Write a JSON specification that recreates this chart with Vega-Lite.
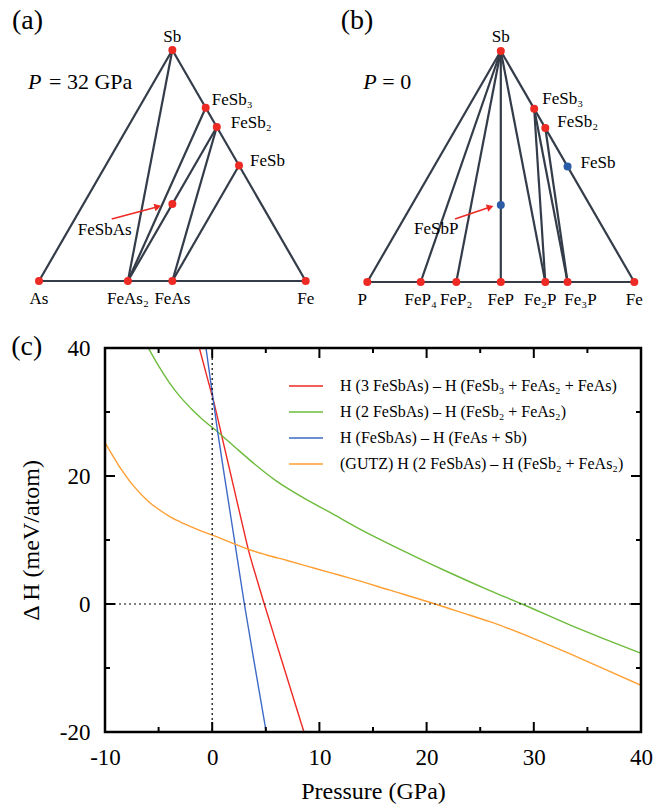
{
 "$schema": "https://vega.github.io/schema/vega-lite/v6.json",
 "autosize": "none",
 "padding": {"left": 105, "top": 348, "right": 21, "bottom": 73},
 "width": 536,
 "height": 384,
 "background": "white",
 "config": {
  "view": {"stroke": null},
  "font": "Liberation Serif",
  "text": {"font": "Liberation Serif", "color": "black"},
  "axis": {"grid": false, "domain": false, "ticks": false,
           "labelFont": "Liberation Serif", "labelFontSize": 23, "labelColor": "black",
           "titleFont": "Liberation Serif", "titleFontSize": 24, "titleFontWeight": "normal", "titleColor": "black"}
 },
 "datasets": {
  "curves": [
   {"series": "H (3 FeSbAs) – H (FeSb₃ + FeAs₂ + FeAs)", "P": -1.2, "dH": 40},
   {"series": "H (3 FeSbAs) – H (FeSb₃ + FeAs₂ + FeAs)", "P": -0.5, "dH": 35.6},
   {"series": "H (3 FeSbAs) – H (FeSb₃ + FeAs₂ + FeAs)", "P": 0.1, "dH": 31.9},
   {"series": "H (3 FeSbAs) – H (FeSb₃ + FeAs₂ + FeAs)", "P": 1, "dH": 25.5},
   {"series": "H (3 FeSbAs) – H (FeSb₃ + FeAs₂ + FeAs)", "P": 2, "dH": 18.3},
   {"series": "H (3 FeSbAs) – H (FeSb₃ + FeAs₂ + FeAs)", "P": 3, "dH": 11.1},
   {"series": "H (3 FeSbAs) – H (FeSb₃ + FeAs₂ + FeAs)", "P": 3.37, "dH": 8.5},
   {"series": "H (3 FeSbAs) – H (FeSb₃ + FeAs₂ + FeAs)", "P": 4, "dH": 4.8},
   {"series": "H (3 FeSbAs) – H (FeSb₃ + FeAs₂ + FeAs)", "P": 4.86, "dH": 0},
   {"series": "H (3 FeSbAs) – H (FeSb₃ + FeAs₂ + FeAs)", "P": 6, "dH": -6.2},
   {"series": "H (3 FeSbAs) – H (FeSb₃ + FeAs₂ + FeAs)", "P": 7, "dH": -11.6},
   {"series": "H (3 FeSbAs) – H (FeSb₃ + FeAs₂ + FeAs)", "P": 8, "dH": -17},
   {"series": "H (3 FeSbAs) – H (FeSb₃ + FeAs₂ + FeAs)", "P": 8.56, "dH": -20},
   {"series": "H (2 FeSbAs) – H (FeSb₂ + FeAs₂)", "P": -5.95, "dH": 40},
   {"series": "H (2 FeSbAs) – H (FeSb₂ + FeAs₂)", "P": -5, "dH": 37.2},
   {"series": "H (2 FeSbAs) – H (FeSb₂ + FeAs₂)", "P": -4, "dH": 34.6},
   {"series": "H (2 FeSbAs) – H (FeSb₂ + FeAs₂)", "P": -3, "dH": 32.4},
   {"series": "H (2 FeSbAs) – H (FeSb₂ + FeAs₂)", "P": -2, "dH": 30.6},
   {"series": "H (2 FeSbAs) – H (FeSb₂ + FeAs₂)", "P": -1, "dH": 29.0},
   {"series": "H (2 FeSbAs) – H (FeSb₂ + FeAs₂)", "P": 0.57, "dH": 26.8},
   {"series": "H (2 FeSbAs) – H (FeSb₂ + FeAs₂)", "P": 2, "dH": 24.7},
   {"series": "H (2 FeSbAs) – H (FeSb₂ + FeAs₂)", "P": 4, "dH": 21.8},
   {"series": "H (2 FeSbAs) – H (FeSb₂ + FeAs₂)", "P": 6, "dH": 19.2},
   {"series": "H (2 FeSbAs) – H (FeSb₂ + FeAs₂)", "P": 8.2, "dH": 16.9},
   {"series": "H (2 FeSbAs) – H (FeSb₂ + FeAs₂)", "P": 11, "dH": 14.3},
   {"series": "H (2 FeSbAs) – H (FeSb₂ + FeAs₂)", "P": 14, "dH": 11.5},
   {"series": "H (2 FeSbAs) – H (FeSb₂ + FeAs₂)", "P": 18.45, "dH": 7.8},
   {"series": "H (2 FeSbAs) – H (FeSb₂ + FeAs₂)", "P": 22, "dH": 5},
   {"series": "H (2 FeSbAs) – H (FeSb₂ + FeAs₂)", "P": 25.9, "dH": 2.1},
   {"series": "H (2 FeSbAs) – H (FeSb₂ + FeAs₂)", "P": 28.9, "dH": 0},
   {"series": "H (2 FeSbAs) – H (FeSb₂ + FeAs₂)", "P": 33.4, "dH": -3.3},
   {"series": "H (2 FeSbAs) – H (FeSb₂ + FeAs₂)", "P": 36.5, "dH": -5.4},
   {"series": "H (2 FeSbAs) – H (FeSb₂ + FeAs₂)", "P": 40, "dH": -7.7},
   {"series": "H (FeSbAs) – H (FeAs + Sb)", "P": -0.58, "dH": 40},
   {"series": "H (FeSbAs) – H (FeAs + Sb)", "P": 0.51, "dH": 26.9},
   {"series": "H (FeSbAs) – H (FeAs + Sb)", "P": 1.3, "dH": 18.3},
   {"series": "H (FeSbAs) – H (FeAs + Sb)", "P": 2.13, "dH": 9.4},
   {"series": "H (FeSbAs) – H (FeAs + Sb)", "P": 3.0, "dH": 0},
   {"series": "H (FeSbAs) – H (FeAs + Sb)", "P": 4, "dH": -9.9},
   {"series": "H (FeSbAs) – H (FeAs + Sb)", "P": 5.04, "dH": -20},
   {"series": "(GUTZ) H (2 FeSbAs) – H (FeSb₂ + FeAs₂)", "P": -10, "dH": 25.2},
   {"series": "(GUTZ) H (2 FeSbAs) – H (FeSb₂ + FeAs₂)", "P": -8.7, "dH": 21.6},
   {"series": "(GUTZ) H (2 FeSbAs) – H (FeSb₂ + FeAs₂)", "P": -7.36, "dH": 18.5},
   {"series": "(GUTZ) H (2 FeSbAs) – H (FeSb₂ + FeAs₂)", "P": -6, "dH": 16.1},
   {"series": "(GUTZ) H (2 FeSbAs) – H (FeSb₂ + FeAs₂)", "P": -5, "dH": 14.8},
   {"series": "(GUTZ) H (2 FeSbAs) – H (FeSb₂ + FeAs₂)", "P": -4, "dH": 13.7},
   {"series": "(GUTZ) H (2 FeSbAs) – H (FeSb₂ + FeAs₂)", "P": -3, "dH": 12.85},
   {"series": "(GUTZ) H (2 FeSbAs) – H (FeSb₂ + FeAs₂)", "P": -2, "dH": 12.1},
   {"series": "(GUTZ) H (2 FeSbAs) – H (FeSb₂ + FeAs₂)", "P": -1, "dH": 11.4},
   {"series": "(GUTZ) H (2 FeSbAs) – H (FeSb₂ + FeAs₂)", "P": 0.57, "dH": 10.4},
   {"series": "(GUTZ) H (2 FeSbAs) – H (FeSb₂ + FeAs₂)", "P": 2.13, "dH": 9.35},
   {"series": "(GUTZ) H (2 FeSbAs) – H (FeSb₂ + FeAs₂)", "P": 3.37, "dH": 8.55},
   {"series": "(GUTZ) H (2 FeSbAs) – H (FeSb₂ + FeAs₂)", "P": 5, "dH": 7.7},
   {"series": "(GUTZ) H (2 FeSbAs) – H (FeSb₂ + FeAs₂)", "P": 7, "dH": 6.8},
   {"series": "(GUTZ) H (2 FeSbAs) – H (FeSb₂ + FeAs₂)", "P": 9, "dH": 5.85},
   {"series": "(GUTZ) H (2 FeSbAs) – H (FeSb₂ + FeAs₂)", "P": 11, "dH": 4.9},
   {"series": "(GUTZ) H (2 FeSbAs) – H (FeSb₂ + FeAs₂)", "P": 12.85, "dH": 4.05},
   {"series": "(GUTZ) H (2 FeSbAs) – H (FeSb₂ + FeAs₂)", "P": 16.5, "dH": 2.2},
   {"series": "(GUTZ) H (2 FeSbAs) – H (FeSb₂ + FeAs₂)", "P": 20.8, "dH": 0},
   {"series": "(GUTZ) H (2 FeSbAs) – H (FeSb₂ + FeAs₂)", "P": 23, "dH": -1.2},
   {"series": "(GUTZ) H (2 FeSbAs) – H (FeSb₂ + FeAs₂)", "P": 25.9, "dH": -2.76},
   {"series": "(GUTZ) H (2 FeSbAs) – H (FeSb₂ + FeAs₂)", "P": 30, "dH": -5.4},
   {"series": "(GUTZ) H (2 FeSbAs) – H (FeSb₂ + FeAs₂)", "P": 33.4, "dH": -7.8},
   {"series": "(GUTZ) H (2 FeSbAs) – H (FeSb₂ + FeAs₂)", "P": 36.5, "dH": -10.1},
   {"series": "(GUTZ) H (2 FeSbAs) – H (FeSb₂ + FeAs₂)", "P": 40, "dH": -12.7}
  ],
  "xMajor": [{"v": -10}, {"v": 0}, {"v": 10}, {"v": 20}, {"v": 30}, {"v": 40}],
  "xMinor": [{"v": -5}, {"v": 5}, {"v": 15}, {"v": 25}, {"v": 35}],
  "yMajor": [{"v": -20}, {"v": 0}, {"v": 20}, {"v": 40}],
  "yMinor": [{"v": -10}, {"v": 10}, {"v": 30}],
  "ptsA": [
   {"name": "Sb", "label": "Sb", "x": 0.5, "s": 1, "phase": "stable"},
   {"name": "As", "label": "As", "x": 0, "s": 0, "phase": "stable"},
   {"name": "FeAs2", "label": "FeAs₂", "x": 0.3333, "s": 0, "phase": "stable"},
   {"name": "FeAs", "label": "FeAs", "x": 0.5, "s": 0, "phase": "stable"},
   {"name": "Fe", "label": "Fe", "x": 1, "s": 0, "phase": "stable"},
   {"name": "FeSb3", "label": "FeSb₃", "x": 0.625, "s": 0.75, "phase": "stable"},
   {"name": "FeSb2", "label": "FeSb₂", "x": 0.6667, "s": 0.6667, "phase": "stable"},
   {"name": "FeSb", "label": "FeSb", "x": 0.75, "s": 0.5, "phase": "stable"},
   {"name": "FeSbAs", "label": "FeSbAs", "x": 0.5, "s": 0.3333, "phase": "stable"}
  ],
  "segA": [
   {"x": 0, "s": 0, "x2": 0.5, "s2": 1},
   {"x": 0.5, "s": 1, "x2": 1, "s2": 0},
   {"x": 0, "s": 0, "x2": 1, "s2": 0},
   {"x": 0.5, "s": 1, "x2": 0.3333, "s2": 0},
   {"x": 0.3333, "s": 0, "x2": 0.625, "s2": 0.75},
   {"x": 0.3333, "s": 0, "x2": 0.6667, "s2": 0.6667},
   {"x": 0.5, "s": 0, "x2": 0.6667, "s2": 0.6667},
   {"x": 0.5, "s": 0, "x2": 0.75, "s2": 0.5}
  ],
  "arrowA": [{"x": 0.4454, "s": 0.3216, "x2": 0.2726, "s2": 0.2684, "label": "FeSbAs"}],
  "notesA": [{"x": -0.0431, "s": 1.1255, "t": "(a)"}],
  "pressA": [{"x": -0.0412, "s": 0.8615, "p": "P", "rest": "= 32 GPa"}],
  "ptsB": [
   {"name": "Sb", "label": "Sb", "x": 0.5, "s": 1, "phase": "stable"},
   {"name": "P", "label": "P", "x": 0, "s": 0, "phase": "stable"},
   {"name": "FeP4", "label": "FeP₄", "x": 0.2, "s": 0, "phase": "stable"},
   {"name": "FeP2", "label": "FeP₂", "x": 0.3333, "s": 0, "phase": "stable"},
   {"name": "FeP", "label": "FeP", "x": 0.5, "s": 0, "phase": "stable"},
   {"name": "Fe2P", "label": "Fe₂P", "x": 0.6667, "s": 0, "phase": "stable"},
   {"name": "Fe3P", "label": "Fe₃P", "x": 0.75, "s": 0, "phase": "stable"},
   {"name": "Fe", "label": "Fe", "x": 1, "s": 0, "phase": "stable"},
   {"name": "FeSb3", "label": "FeSb₃", "x": 0.625, "s": 0.75, "phase": "stable"},
   {"name": "FeSb2", "label": "FeSb₂", "x": 0.6667, "s": 0.6667, "phase": "stable"},
   {"name": "FeSb", "label": "FeSb", "x": 0.75, "s": 0.5, "phase": "metastable"},
   {"name": "FeSbP", "label": "FeSbP", "x": 0.5, "s": 0.3333, "phase": "metastable"}
  ],
  "segB": [
   {"x": 0, "s": 0, "x2": 0.5, "s2": 1},
   {"x": 0.5, "s": 1, "x2": 1, "s2": 0},
   {"x": 0, "s": 0, "x2": 1, "s2": 0},
   {"x": 0.5, "s": 1, "x2": 0.2, "s2": 0},
   {"x": 0.5, "s": 1, "x2": 0.3333, "s2": 0},
   {"x": 0.5, "s": 1, "x2": 0.5, "s2": 0},
   {"x": 0.5, "s": 1, "x2": 0.6667, "s2": 0},
   {"x": 0.625, "s": 0.75, "x2": 0.6667, "s2": 0},
   {"x": 0.625, "s": 0.75, "x2": 0.75, "s2": 0},
   {"x": 0.6667, "s": 0.6667, "x2": 0.75, "s2": 0}
  ],
  "arrowB": [{"x": 0.4603, "s": 0.3247, "x2": 0.3285, "s2": 0.2727, "label": "FeSbP"}],
  "notesB": [{"x": -0.0386, "s": 1.1299, "t": "(b)"}],
  "pressB": [{"x": -0.015, "s": 0.8658, "p": "P", "rest": "= 0"}]
 },
 "layer": [
  {
   "layer": [
    {
     "data": {"name": "curves"},
     "mark": {"type": "line", "strokeWidth": 1.4, "clip": true, "interpolate": "monotone"},
     "encoding": {
      "x": {"field": "P", "type": "quantitative",
            "scale": {"domain": [-10, 40], "nice": false, "zero": false},
            "axis": {"orient": "bottom", "values": [-10, 0, 10, 20, 30, 40],
                     "domain": false, "ticks": false,
                     "labelExpr": "datum.value + ''",
                     "labelPadding": 14, "labelFlush": false, "labelOverlap": false,
                     "labelFont": "Liberation Serif", "titleFont": "Liberation Serif",
                     "title": "Pressure (GPa)", "titlePadding": 10}},
      "y": {"field": "dH", "type": "quantitative",
            "scale": {"domain": [-20, 40], "nice": false, "zero": false},
            "axis": {"orient": "left", "values": [-20, 0, 20, 40],
                     "domain": false, "ticks": false,
                     "labelExpr": "datum.value + ''",
                     "labelPadding": 15, "labelFlush": false, "labelOverlap": false,
                     "labelFont": "Liberation Serif", "titleFont": "Liberation Serif",
                     "title": "Δ H (meV/atom)", "titlePadding": 16}},
      "color": {"field": "series", "type": "nominal",
                "scale": {"domain": ["H (3 FeSbAs) – H (FeSb₃ + FeAs₂ + FeAs)", "H (2 FeSbAs) – H (FeSb₂ + FeAs₂)", "H (FeSbAs) – H (FeAs + Sb)", "(GUTZ) H (2 FeSbAs) – H (FeSb₂ + FeAs₂)"],
                          "range": ["#ee2a24", "#6dbb3c", "#3d6ac6", "#ff9f33"]},
                "legend": {"orient": "none", "legendX": 183, "legendY": 20, "title": null, "symbolType": "stroke",
                           "symbolSize": 1156, "symbolStrokeWidth": 1.6, "labelFont": "Liberation Serif",
                           "labelFontSize": 16, "labelColor": "black", "labelOffset": 16, "rowPadding": -6,
                           "labelLimit": 500, "padding": 0}}
     }
    },
    {
     "data": {"values": [{"P": 0}]},
     "mark": {"type": "rule", "strokeDash": [2, 3], "color": "black", "strokeWidth": 1.2},
     "encoding": {"x": {"field": "P", "type": "quantitative", "axis": null}}
    },
    {
     "data": {"values": [{"dH": 0}]},
     "mark": {"type": "rule", "strokeDash": [2, 3], "color": "black", "strokeWidth": 1.2},
     "encoding": {"y": {"field": "dH", "type": "quantitative", "axis": null}}
    },
    {
     "data": {"name": "xMajor"},
     "mark": {"type": "tick", "orient": "vertical", "size": 20, "thickness": 2, "color": "black", "opacity": 1, "clip": true},
     "encoding": {"x": {"field": "v", "type": "quantitative", "axis": null}, "y": {"datum": -20, "type": "quantitative", "axis": null}}
    },
    {
     "data": {"name": "xMajor"},
     "mark": {"type": "tick", "orient": "vertical", "size": 20, "thickness": 2, "color": "black", "opacity": 1, "clip": true},
     "encoding": {"x": {"field": "v", "type": "quantitative", "axis": null}, "y": {"datum": 40, "type": "quantitative", "axis": null}}
    },
    {
     "data": {"name": "xMinor"},
     "mark": {"type": "tick", "orient": "vertical", "size": 10, "thickness": 2, "color": "black", "opacity": 1, "clip": true},
     "encoding": {"x": {"field": "v", "type": "quantitative", "axis": null}, "y": {"datum": -20, "type": "quantitative", "axis": null}}
    },
    {
     "data": {"name": "xMinor"},
     "mark": {"type": "tick", "orient": "vertical", "size": 10, "thickness": 2, "color": "black", "opacity": 1, "clip": true},
     "encoding": {"x": {"field": "v", "type": "quantitative", "axis": null}, "y": {"datum": 40, "type": "quantitative", "axis": null}}
    },
    {
     "data": {"name": "yMajor"},
     "mark": {"type": "tick", "orient": "horizontal", "size": 20, "thickness": 2, "color": "black", "opacity": 1, "clip": true},
     "encoding": {"y": {"field": "v", "type": "quantitative", "axis": null}, "x": {"datum": -10, "type": "quantitative", "axis": null}}
    },
    {
     "data": {"name": "yMajor"},
     "mark": {"type": "tick", "orient": "horizontal", "size": 20, "thickness": 2, "color": "black", "opacity": 1, "clip": true},
     "encoding": {"y": {"field": "v", "type": "quantitative", "axis": null}, "x": {"datum": 40, "type": "quantitative", "axis": null}}
    },
    {
     "data": {"name": "yMinor"},
     "mark": {"type": "tick", "orient": "horizontal", "size": 10, "thickness": 2, "color": "black", "opacity": 1, "clip": true},
     "encoding": {"y": {"field": "v", "type": "quantitative", "axis": null}, "x": {"datum": -10, "type": "quantitative", "axis": null}}
    },
    {
     "data": {"name": "yMinor"},
     "mark": {"type": "tick", "orient": "horizontal", "size": 10, "thickness": 2, "color": "black", "opacity": 1, "clip": true},
     "encoding": {"y": {"field": "v", "type": "quantitative", "axis": null}, "x": {"datum": 40, "type": "quantitative", "axis": null}}
    },
    {
     "data": {"values": [{"P0": -10, "P1": 40, "H0": -20, "H1": 40}]},
     "mark": {"type": "rect", "filled": false, "stroke": "black", "strokeWidth": 2.5, "opacity": 1},
     "encoding": {
      "x": {"field": "P0", "type": "quantitative", "axis": null},
      "x2": {"field": "P1"},
      "y": {"field": "H0", "type": "quantitative", "axis": null},
      "y2": {"field": "H1"}
     }
    },
    {
     "data": {"values": [{"P": -17.3, "dH": 40.2, "t": "(c)"}]},
     "mark": {"type": "text", "font": "Liberation Serif", "fontSize": 28, "align": "center", "baseline": "middle", "color": "black"},
     "encoding": {
      "x": {"field": "P", "type": "quantitative", "axis": null},
      "y": {"field": "dH", "type": "quantitative", "axis": null},
      "text": {"field": "t"}
     }
    }
   ],
   "resolve": {"axis": {"x": "independent", "y": "independent"}}
  },
  {
   "encoding": {
    "x": {"field": "x", "type": "quantitative", "scale": {"domain": [0.24747, 2.25722], "nice": false, "zero": false}, "axis": null},
    "y": {"field": "s", "type": "quantitative", "scale": {"domain": [-1.952381, -0.290043], "nice": false, "zero": false}, "axis": null}
   },
   "layer": [
    {"data": {"name": "segA"}, "mark": {"type": "rule", "color": "#333c48", "strokeWidth": 2.2},
     "encoding": {"x2": {"field": "x2"}, "y2": {"field": "s2"}}},
    {"data": {"name": "arrowA"}, "mark": {"type": "rule", "color": "#ee2a24", "strokeWidth": 1.6},
     "encoding": {"x2": {"field": "x2"}, "y2": {"field": "s2"}}},
    {"data": {"name": "arrowA"}, "mark": {"type": "point", "shape": "triangle-right", "filled": true, "color": "#ee2a24", "size": 60, "angle": -15, "opacity": 1}},
    {"data": {"name": "ptsA"}, "mark": {"type": "point", "filled": true, "size": 64, "opacity": 1},
     "encoding": {"color": {"field": "phase", "type": "nominal", "scale": {"domain": ["stable", "metastable"], "range": ["#ee2a24", "#2b5ca8"]}, "legend": null}}},
    {"data": {"name": "ptsA"}, "transform": [{"filter": {"field": "name", "oneOf": ["Sb"]}}],
     "mark": {"type": "text", "font": "Liberation Serif", "fontSize": 17, "dy": -13, "align": "center", "baseline": "middle", "color": "black"},
     "encoding": {"text": {"field": "label"}}},
    {"data": {"name": "ptsA"}, "transform": [{"filter": {"field": "name", "oneOf": ["As", "FeAs2", "FeAs", "Fe"]}}],
     "mark": {"type": "text", "font": "Liberation Serif", "fontSize": 17, "dy": 18, "align": "center", "baseline": "middle", "color": "black"},
     "encoding": {"text": {"field": "label"}}},
    {"data": {"name": "ptsA"}, "transform": [{"filter": {"field": "name", "oneOf": ["FeSb3"]}}],
     "mark": {"type": "text", "font": "Liberation Serif", "fontSize": 17, "dx": 6, "dy": -8, "align": "left", "baseline": "middle", "color": "black"},
     "encoding": {"text": {"field": "label"}}},
    {"data": {"name": "ptsA"}, "transform": [{"filter": {"field": "name", "oneOf": ["FeSb2"]}}],
     "mark": {"type": "text", "font": "Liberation Serif", "fontSize": 17, "dx": 14, "dy": -4, "align": "left", "baseline": "middle", "color": "black"},
     "encoding": {"text": {"field": "label"}}},
    {"data": {"name": "ptsA"}, "transform": [{"filter": {"field": "name", "oneOf": ["FeSb"]}}],
     "mark": {"type": "text", "font": "Liberation Serif", "fontSize": 17, "dx": 11, "dy": -5, "align": "left", "baseline": "middle", "color": "black"},
     "encoding": {"text": {"field": "label"}}},
    {"data": {"name": "arrowA"},
     "mark": {"type": "text", "font": "Liberation Serif", "fontSize": 17, "dx": -53, "dy": 23, "align": "center", "baseline": "middle", "color": "black"},
     "encoding": {"text": {"field": "label"}}},
    {"data": {"name": "notesA"},
     "mark": {"type": "text", "font": "Liberation Serif", "fontSize": 28, "align": "center", "baseline": "middle", "color": "black"},
     "encoding": {"text": {"field": "t"}}},
    {"data": {"name": "pressA"},
     "mark": {"type": "text", "font": "Liberation Serif", "fontSize": 22, "fontStyle": "italic", "align": "left", "baseline": "middle", "color": "black"},
     "encoding": {"text": {"field": "p"}}},
    {"data": {"name": "pressA"},
     "mark": {"type": "text", "font": "Liberation Serif", "fontSize": 22, "dx": 21, "align": "left", "baseline": "middle", "color": "black"},
     "encoding": {"text": {"field": "rest"}}}
   ]
  },
  {
   "encoding": {
    "x": {"field": "x", "type": "quantitative", "scale": {"domain": [-0.98240, 1.02509], "nice": false, "zero": false}, "axis": null},
    "y": {"field": "s", "type": "quantitative", "scale": {"domain": [-1.948052, -0.285714], "nice": false, "zero": false}, "axis": null}
   },
   "layer": [
    {"data": {"name": "segB"}, "mark": {"type": "rule", "color": "#333c48", "strokeWidth": 2.2},
     "encoding": {"x2": {"field": "x2"}, "y2": {"field": "s2"}}},
    {"data": {"name": "arrowB"}, "mark": {"type": "rule", "color": "#ee2a24", "strokeWidth": 1.6},
     "encoding": {"x2": {"field": "x2"}, "y2": {"field": "s2"}}},
    {"data": {"name": "arrowB"}, "mark": {"type": "point", "shape": "triangle-right", "filled": true, "color": "#ee2a24", "size": 60, "angle": -19, "opacity": 1}},
    {"data": {"name": "ptsB"}, "mark": {"type": "point", "filled": true, "size": 64, "opacity": 1},
     "encoding": {"color": {"field": "phase", "type": "nominal", "scale": {"domain": ["stable", "metastable"], "range": ["#ee2a24", "#2b5ca8"]}, "legend": null}}},
    {"data": {"name": "ptsB"}, "transform": [{"filter": {"field": "name", "oneOf": ["Sb"]}}],
     "mark": {"type": "text", "font": "Liberation Serif", "fontSize": 17, "dy": -14, "align": "center", "baseline": "middle", "color": "black"},
     "encoding": {"text": {"field": "label"}}},
    {"data": {"name": "ptsB"}, "transform": [{"filter": {"field": "name", "oneOf": ["FeP4", "FeP2", "FeP", "Fe"]}}],
     "mark": {"type": "text", "font": "Liberation Serif", "fontSize": 17, "dy": 18, "align": "center", "baseline": "middle", "color": "black"},
     "encoding": {"text": {"field": "label"}}},
    {"data": {"name": "ptsB"}, "transform": [{"filter": {"field": "name", "oneOf": ["P", "Fe2P"]}}],
     "mark": {"type": "text", "font": "Liberation Serif", "fontSize": 17, "dx": -5, "dy": 18, "align": "center", "baseline": "middle", "color": "black"},
     "encoding": {"text": {"field": "label"}}},
    {"data": {"name": "ptsB"}, "transform": [{"filter": {"field": "name", "oneOf": ["Fe3P"]}}],
     "mark": {"type": "text", "font": "Liberation Serif", "fontSize": 17, "dx": 13, "dy": 18, "align": "center", "baseline": "middle", "color": "black"},
     "encoding": {"text": {"field": "label"}}},
    {"data": {"name": "ptsB"}, "transform": [{"filter": {"field": "name", "oneOf": ["FeSb3"]}}],
     "mark": {"type": "text", "font": "Liberation Serif", "fontSize": 17, "dx": 8, "dy": -10, "align": "left", "baseline": "middle", "color": "black"},
     "encoding": {"text": {"field": "label"}}},
    {"data": {"name": "ptsB"}, "transform": [{"filter": {"field": "name", "oneOf": ["FeSb2"]}}],
     "mark": {"type": "text", "font": "Liberation Serif", "fontSize": 17, "dx": 12, "dy": -6, "align": "left", "baseline": "middle", "color": "black"},
     "encoding": {"text": {"field": "label"}}},
    {"data": {"name": "ptsB"}, "transform": [{"filter": {"field": "name", "oneOf": ["FeSb"]}}],
     "mark": {"type": "text", "font": "Liberation Serif", "fontSize": 17, "dx": 13, "dy": -4, "align": "left", "baseline": "middle", "color": "black"},
     "encoding": {"text": {"field": "label"}}},
    {"data": {"name": "arrowB"},
     "mark": {"type": "text", "font": "Liberation Serif", "fontSize": 17, "dx": -54, "dy": 22, "align": "center", "baseline": "middle", "color": "black"},
     "encoding": {"text": {"field": "label"}}},
    {"data": {"name": "notesB"},
     "mark": {"type": "text", "font": "Liberation Serif", "fontSize": 28, "align": "center", "baseline": "middle", "color": "black"},
     "encoding": {"text": {"field": "t"}}},
    {"data": {"name": "pressB"},
     "mark": {"type": "text", "font": "Liberation Serif", "fontSize": 22, "fontStyle": "italic", "align": "left", "baseline": "middle", "color": "black"},
     "encoding": {"text": {"field": "p"}}},
    {"data": {"name": "pressB"},
     "mark": {"type": "text", "font": "Liberation Serif", "fontSize": 22, "dx": 19, "align": "left", "baseline": "middle", "color": "black"},
     "encoding": {"text": {"field": "rest"}}}
   ]
  }
 ],
 "resolve": {"scale": {"x": "independent", "y": "independent", "color": "independent"}}
}
